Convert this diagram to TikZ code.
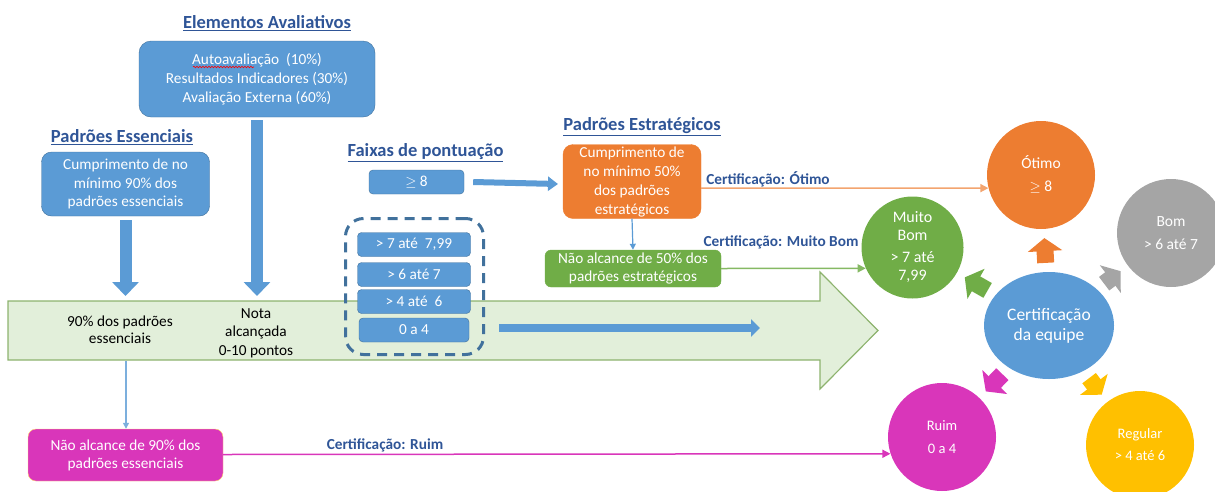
\documentclass[tikz,border=0pt]{standalone}
\usepackage{fontspec}
\setmainfont{Carlito}
\usepackage{xcolor}
\usetikzlibrary{arrows.meta, shapes.geometric, decorations.pathmorphing}

\definecolor{azul}{HTML}{5B9BD5}
\definecolor{azulborda}{HTML}{41719C}
\definecolor{azultitulo}{HTML}{2F5597}
\definecolor{laranja}{HTML}{ED7D31}
\definecolor{verde}{HTML}{70AD47}
\definecolor{verdeclaro}{HTML}{E2EFDA}
\definecolor{verdeborda}{HTML}{8DB36E}
\definecolor{cinza}{HTML}{A5A5A5}
\definecolor{amarelo}{HTML}{FFC000}
\definecolor{rosa}{HTML}{D936BA}

\tikzset{
  titulo/.style = {font=\fontsize{18.5}{21}\selectfont\bfseries, text=azultitulo},
  caixa/.style = {rounded corners=4, draw=azulborda, fill=azul, text=white, align=center, inner sep=0pt, font=\fontsize{15.3}{19}\selectfont},
  faixa/.style = {caixa, minimum width=113, minimum height=24},
  certif/.style = {font=\fontsize{15.3}{17}\selectfont\bfseries, text=azultitulo},
  nivel/.style = {circle, inner sep=0pt, text=white, align=center, font=\fontsize{15.5}{23}\selectfont},
  seta/.style = {line width=12pt, draw=azul, -{Triangle[length=14pt, width=26pt]}},
  raio/.style = {line width=17pt, -{Triangle[length=13pt, width=34pt]}, shorten <=9pt, shorten >=9pt},
}

\begin{document}
\begin{tikzpicture}[x=1pt, y=-1pt]
      \useasboundingbox (0,0) rectangle (1215,491);
      % seta grande de fundo
      \draw[draw=verdeborda, fill=verdeclaro, line width=1.2pt] (8,301) -- (820,301) -- (820,272) -- (878,330.5) -- (820,389) -- (820,360) -- (8,360) -- cycle;
      \coordinate (topo) at (0,296);
      \coordinate (base) at (126,361);
      \node [align=center, font=\fontsize{15.3}{17}\selectfont] (ess90) at (120,329.5) {90\% dos padrões\\essenciais};
      \node [align=center, font=\fontsize{15.3}{18.5}\selectfont] (nota) at (256,333) {Nota\\alcançada\\0-10 pontos};

      % elementos avaliativos
      \node [titulo] (tElem) at (267,23) {\underline{Elementos Avaliativos}};
      \node [caixa, rounded corners=12, minimum width=236, minimum height=76] (aval) at (257,79) {Autoavaliação\ \ (10\%)\\Resultados Indicadores (30\%)\\Avaliação Externa (60\%)};
      \draw [red, line width=0.6pt, decorate, decoration={snake, amplitude=0.8pt, segment length=3pt}] (193,67) -- (254,67);
      \draw [seta, shorten <=3pt] (aval.south) -- (aval.south |- topo);

      % padroes essenciais
      \node [titulo] (tEss) at (122,137) {\underline{Padrões Essenciais}};
      \node [caixa, rounded corners=10, minimum width=168, minimum height=64, font=\fontsize{15.3}{18.5}\selectfont] (ess) at (125.5,184) {Cumprimento\ de no\\mínimo\ 90\% dos\\padrões essenciais};
      \draw [seta, shorten <=4pt] (ess.south) -- (ess.south |- topo);

      % faixas de pontuacao
      \node [titulo] (tFaixa) at (425.5,153) {\underline{Faixas de pontuação}};
      \node [faixa, minimum width=95] (oito) at (416.5,182) {$\geq$ 8};
      \node [draw=azulborda, line width=3pt, dash pattern=on 10pt off 7pt, rounded corners=18, minimum width=138, minimum height=136] (grupo) at (414.5,286.5) {};
      \node [faixa] (sete) at (414,244.5) {> 7 até\ \ 7,99};
      \node [faixa] (seis) at (414,274.5) {> 6 até 7};
      \node [faixa] (quatro) at (414,301.5) {> 4 até\ \ 6};
      \node [faixa, minimum width=110] (zero) at (414,330) {0 a 4};
      \coordinate (fim) at (760,328);
      \draw [line width=6pt, azul, -{Triangle[length=10pt, width=14pt]}] ([xshift=9pt]oito.east) -- (558,184);
      \draw [line width=8pt, azul, -{Triangle[length=9pt, width=17pt]}] ([xshift=14pt]grupo.east |- fim) -- (fim);

      % padroes estrategicos
      \node [titulo] (tEstr) at (642,127) {\underline{Padrões Estratégicos}};
      \node [caixa, draw=laranja, fill=laranja, rounded corners=10, minimum width=138, minimum height=74] (estr) at (632,181.5) {Cumprimento de\\no mínimo 50\%\\dos padrões\\estratégicos};
      \node [caixa, draw=verde, fill=verde, rounded corners=6, minimum width=176, minimum height=37, font=\fontsize{15.3}{18}\selectfont] (nEst) at (633,268.5) {Não alcance de 50\% dos\\padrões estratégicos};
      \draw [azul, line width=1.2pt, -{Triangle[length=6pt, width=6pt]}] (estr.south) -- (nEst.north);

      % nao alcance essenciais
      \node [caixa, draw=amarelo!60, fill=rosa, rounded corners=8, minimum width=195, minimum height=52, font=\fontsize{15.3}{18}\selectfont] (nEss) at (125.5,455) {Não alcance de 90\% dos\\padrões essenciais};
      \draw [azul!80, line width=1.2pt, -{Triangle[length=6pt, width=6pt]}] (base) -- (nEss.north -| base);

      % circulos de certificacao
      \node [nivel, ellipse, fill=azul, minimum width=130, minimum height=107, font=\fontsize{17.5}{20}\selectfont] (cert) at (1049,325.5) {Certificação\\da equipe};
      \node [nivel, fill=laranja, minimum size=108] (otimo) at (1041,175) {Ótimo\\$\geq$ 8};
      \node [nivel, fill=verde, minimum size=102, font=\fontsize{16}{18}\selectfont] (mbom) at (912.5,247.5) {Muito\\Bom\\[4pt]> 7 até\\7,99};
      \node [nivel, fill=cinza, minimum size=108] (bom) at (1171,233) {Bom\\> 6 até 7};
      \node [nivel, fill=rosa, minimum size=108, font=\fontsize{14.5}{23}\selectfont] (ruim) at (942,437) {Ruim\\0 a 4};
      \node [nivel, fill=amarelo, minimum size=108, font=\fontsize{14.5}{22}\selectfont] (regular) at (1140,445) {Regular\\> 4 até 6};

      \draw [raio, laranja] (cert) -- (otimo);
      \draw [raio, verde] (cert) -- (mbom);
      \draw [raio, cinza] (cert) -- (bom);
      \draw [raio, rosa] (cert) -- (ruim);
      \draw [raio, amarelo] (cert) -- (regular);

      % linhas de certificacao
      \draw [laranja!70, line width=1.5pt, -{Triangle[length=8pt, width=8pt]}] ([yshift=-6.5pt]estr.east) -- (otimo.194);
      \node [certif] (cOtimo) at (768,179) {Certificação: Ótimo};
      \draw [verde!85, line width=1.5pt, -{Triangle[length=8pt, width=8pt]}] (nEst.east) -- (mbom.204);
      \node [certif] (cMbom) at (781,242) {Certificação: Muito Bom};
      \draw [rosa, line width=1.5pt, -{Triangle[length=8pt, width=8pt]}] ([yshift=0.5pt]nEss.east) -- (ruim.198);
      \node [certif] (cRuim) at (385,445) {Certificação: Ruim};
    \end{tikzpicture}
\end{document}
